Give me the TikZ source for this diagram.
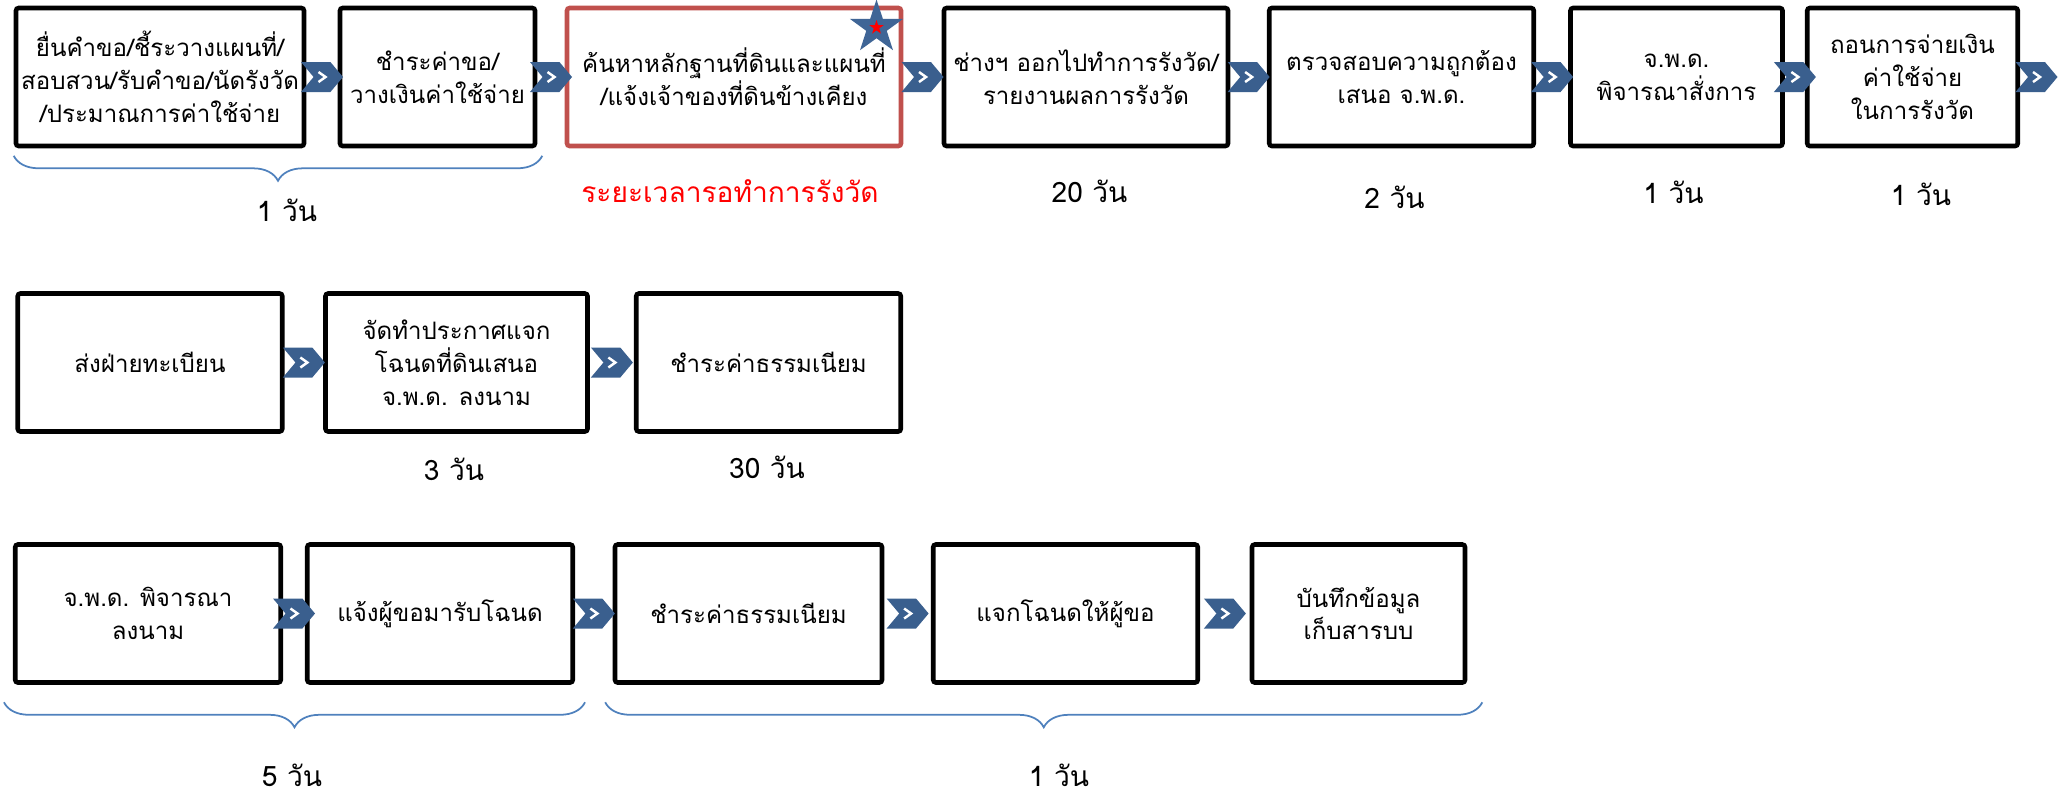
\documentclass[tikz,border=0pt]{standalone}
\usepackage{fontspec}
\setmainfont[Script=Thai]{Loma}
\usepackage{xcolor}
\usetikzlibrary{shapes.geometric,shapes.symbols,decorations.pathreplacing,calc}
\definecolor{cHot}{HTML}{C0504D}
\definecolor{cArr}{HTML}{3A5F8E}
\definecolor{cStar}{HTML}{3F6596}
\definecolor{cSpan}{HTML}{4F81BD}
\tikzset{
  box/.style={draw=black,line width=2.6pt,rounded corners=1.5pt,align=center,
              inner sep=2pt,minimum height=2.76cm,fill=white,
              font=\fontsize{13.7}{18.7}\selectfont},
  blk/.style={box,minimum width=#1},
  hot/.style={box,draw=cHot,minimum width=#1},
  chev/.style={signal,signal from=west,signal to=east,signal pointer angle=100,
               fill=cArr,draw=none,minimum width=0.84cm,minimum height=0.6cm,inner sep=0pt,
               path picture={\draw[white,line width=1.4pt]
                 ([shift={(-0.07,0.1)}]path picture bounding box.center) --
                 ([shift={(0.07,0)}]path picture bounding box.center) --
                 ([shift={(-0.07,-0.1)}]path picture bounding box.center);}},
  days/.style={font=\fontsize{16}{19}\selectfont},
  span/.style={decorate,decoration={brace,mirror,amplitude=0.5cm},draw=cSpan,line width=1pt},
}

\begin{document}
\begin{tikzpicture}[x=1cm,y=1cm]
\useasboundingbox (0,0) rectangle (41.26,-15.92);

% ---------------------------------------------------------------- ROW 1
\node[blk=5.76cm] (req) at (3.2,-1.54) {ยื่นคำขอ/ชี้ระวางแผนที่/\\สอบสวน/รับคำขอ/นัดรังวัด\\/ประมาณการค่าใช้จ่าย};
\node[blk=3.9cm] (fee) at (8.75,-1.54) {ชำระค่าขอ/\\วางเงินค่าใช้จ่าย};
\node[hot=6.68cm] (srch) at (14.68,-1.54) {ค้นหาหลักฐานที่ดินและแผนที่\\/แจ้งเจ้าของที่ดินข้างเคียง};
\node[blk=5.68cm] (surv) at (21.72,-1.54) {ช่างฯ ออกไปทำการรังวัด/\\รายงานผลการรังวัด};
\node[blk=5.29cm] (chk) at (28.03,-1.54) {ตรวจสอบความถูกต้อง\\เสนอ จ.พ.ด.};
\node[blk=4.24cm] (ord) at (33.53,-1.54) {จ.พ.ด.\\พิจารณาสั่งการ};
\node[blk=4.21cm] (wdr) at (38.25,-1.54) {ถอนการจ่ายเงิน\\ค่าใช้จ่าย\\ในการรังวัด};

\node[star,star points=5,star point ratio=2.6,fill=cStar,minimum size=1.12cm,inner sep=0pt] (mark) at (17.53,-0.55) {};
\node[star,star points=5,star point ratio=2.6,fill=red,minimum size=0.3cm,inner sep=0pt] (mark2) at (mark.center) {};

\node[chev] (c1) at ($(req.east)!0.5!(fee.west)$) {};
\node[chev] (c2) at ($(fee.east)!0.5!(srch.west)$) {};
\node[chev] (c3) at ($(srch.east)!0.5!(surv.west)$) {};
\node[chev] (c4) at ($(surv.east)!0.5!(chk.west)$) {};
\node[chev] (c5) at ($(chk.east)!0.5!(ord.west)$) {};
\node[chev] (c6) at ($(ord.east)!0.5!(wdr.west)$) {};
\node[chev] (c7) at (40.73,-1.54) {};

\draw[span] ([yshift=-0.15cm]req.south west) -- ([xshift=0.1cm,yshift=-0.15cm]fee.south east);
\node[days] (d1) at (5.74,-4.21) {1 วัน};
\node[days,text=red] (wait) at (14.6,-3.82) {ระยะเวลารอทำการรังวัด};
\node[days] (d2) at (21.79,-3.82) {20 วัน};
\node[days] (d3) at (27.89,-3.95) {2 วัน};
\node[days] (d4) at (33.47,-3.84) {1 วัน};
\node[days] (d5) at (38.42,-3.89) {1 วัน};

% ---------------------------------------------------------------- ROW 2
\node[blk=5.29cm] (reg) at (3.0,-7.25) {ส่งฝ่ายทะเบียน};
\node[blk=5.24cm] (ann) at (9.13,-7.25) {จัดทำประกาศแจก\\โฉนดที่ดินเสนอ\\จ.พ.ด. ลงนาม};
\node[blk=5.29cm] (pay) at (15.37,-7.25) {ชำระค่าธรรมเนียม};

\node[chev] (c8) at ($(reg.east)!0.5!(ann.west)$) {};
\node[chev] (c9) at ($(ann.east)!0.5!(pay.west)$) {};

\node[days] (d6) at (9.08,-9.39) {3 วัน};
\node[days] (d7) at (15.34,-9.34) {30 วัน};

% ---------------------------------------------------------------- ROW 3
\node[blk=5.31cm] (sign) at (2.96,-12.27) {จ.พ.ด. พิจารณา\\ลงนาม};
\node[blk=5.31cm] (call) at (8.8,-12.27) {แจ้งผู้ขอมารับโฉนด};
\node[blk=5.34cm] (pay2) at (14.97,-12.27) {ชำระค่าธรรมเนียม};
\node[blk=5.29cm] (hand) at (21.31,-12.27) {แจกโฉนดให้ผู้ขอ};
\node[blk=4.26cm] (rec) at (27.17,-12.27) {บันทึกข้อมูล\\เก็บสารบบ};

\node[chev] (c10) at ($(sign.east)!0.5!(call.west)$) {};
\node[chev] (c11) at ($(call.east)!0.5!(pay2.west)$) {};
\node[chev] (c12) at ($(pay2.east)!0.5!(hand.west)$) {};
\node[chev] (c13) at ($(hand.east)!0.5!(rec.west)$) {};

\draw[span] ([xshift=-0.18cm,yshift=-0.35cm]sign.south west) -- ([xshift=0.2cm,yshift=-0.35cm]call.south east);
\draw[span] ([xshift=-0.15cm,yshift=-0.35cm]pay2.south west) -- ([xshift=0.3cm,yshift=-0.35cm]rec.south east);
\node[days] (d8) at (5.84,-15.5) {5 วัน};
\node[days] (d9) at (21.18,-15.5) {1 วัน};

\end{tikzpicture}
\end{document}
